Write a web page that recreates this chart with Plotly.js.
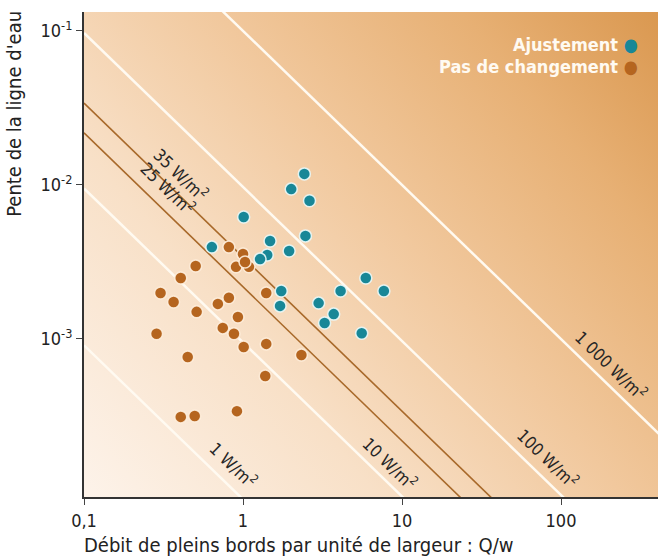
<!DOCTYPE html>
<html>
<head>
<meta charset="utf-8">
<script src="https://cdn.plot.ly/plotly-3.0.1.min.js"></script>
<style>
  html, body { margin: 0; padding: 0; background: #ffffff; }
  #chart { width: 661px; height: 556px; }
</style>
</head>
<body>
<div id="chart"></div>
<script>
// ---- Data ----
// "Ajustement" (teal) : débit par unité de largeur Q/w and pente
const ajustQ = [2.43, 2.01, 2.62, 1.01, 2.47, 0.637, 1.48, 1.95, 1.42, 1.28,
                5.92, 7.69, 4.11, 1.74, 1.71, 2.99, 3.72, 3.26, 5.58];
const ajustS = [1.18e-2, 9.4e-3, 7.9e-3, 6.2e-3, 4.67e-3, 3.95e-3, 4.33e-3, 3.73e-3, 3.51e-3, 3.30e-3,
                2.49e-3, 2.05e-3, 2.05e-3, 2.05e-3, 1.64e-3, 1.71e-3, 1.45e-3, 1.27e-3, 1.09e-3];

// "Pas de changement" (orange)
const pasQ = [0.815, 1.00, 0.904, 1.09, 1.03, 0.504, 0.406, 0.303, 0.366, 0.511,
              0.695, 0.815, 0.929, 0.746, 0.877, 1.01, 1.40, 1.40, 2.33, 0.286,
              0.449, 1.38, 0.406, 0.497, 0.916];
const pasS = [3.95e-3, 3.56e-3, 2.94e-3, 2.94e-3, 3.16e-3, 2.98e-3, 2.49e-3, 1.99e-3, 1.74e-3, 1.50e-3,
              1.69e-3, 1.85e-3, 1.39e-3, 1.18e-3, 1.08e-3, 8.87e-4, 1.99e-3, 9.29e-4, 7.87e-4, 1.08e-3,
              7.64e-4, 5.75e-4, 3.12e-4, 3.16e-4, 3.40e-4];

// Iso stream-power lines (two end points each)
const lineQ = [0.1, 1000];
const w1S    = [9.1e-4, 9.1e-8];
const w10S   = [9.5e-3, 9.5e-7];
const w100S  = [0.097, 9.7e-6];
const w1000S = [1.0, 1.0e-4];
const w35S   = [0.034, 3.4e-6];
const w25S   = [0.0218, 2.18e-6];

// Line labels
const labelText = ["1 W/m<sup>2</sup>", "10 W/m<sup>2</sup>", "100 W/m<sup>2</sup>", "1 000 W/m<sup>2</sup>",
                   "35 W/m<sup>2</sup>", "25 W/m<sup>2</sup>"];
const labelQ = [0.877, 8.4, 82.8, 207, 0.406, 0.338];
const labelS = [1.52e-4, 1.57e-4, 1.69e-4, 6.78e-4, 1.18e-2, 9.6e-3];

// Ticks
const xTickVals = [0.1, 1, 10, 100];
const xTickText = ["0,1", "1", "10", "100"];
const yTickVals = [1e-3, 1e-2, 1e-1];
const yTickText = ["10<sup>-3</sup>", "10<sup>-2</sup>", "10<sup>-1</sup>"];

const seriesNames = ["Ajustement", "Pas de changement"];
const seriesColors = ["#188797", "#b5651f"];

// ---- Background gradient image ----
function gradientImage() {
  const c = document.createElement("canvas");
  c.width = 574; c.height = 485;
  const ctx = c.getContext("2d");
  const g = ctx.createLinearGradient(0, c.height, c.width, 0);
  g.addColorStop(0.00, "#fdf3ea");
  g.addColorStop(0.30, "#f8e0c7");
  g.addColorStop(0.55, "#f1c89d");
  g.addColorStop(0.80, "#e7b074");
  g.addColorStop(1.00, "#da9850");
  ctx.fillStyle = g;
  ctx.fillRect(0, 0, c.width, c.height);
  return c.toDataURL("image/png");
}

const FONT = "'Liberation Sans Narrow', 'DejaVu Sans Condensed', 'Roboto Condensed', 'Arial Narrow', sans-serif";

function isoLine(ys, color, width) {
  return { x: lineQ, y: ys, mode: "lines", type: "scatter", hoverinfo: "skip",
           line: { color: color, width: width }, showlegend: false };
}

const traces = [
  isoLine(w1S, "#fffaf1", 2.5),
  isoLine(w10S, "#fffaf1", 2.5),
  isoLine(w100S, "#fffaf1", 2.5),
  isoLine(w1000S, "#fffaf1", 2.5),
  isoLine(w35S, "#a8692a", 1.6),
  isoLine(w25S, "#a8692a", 1.6),
  { x: pasQ, y: pasS, mode: "markers", type: "scatter", name: seriesNames[1], showlegend: false,
    marker: { color: seriesColors[1], size: 12, line: { color: "rgba(255,240,222,0.9)", width: 1.5 } } },
  { x: ajustQ, y: ajustS, mode: "markers", type: "scatter", name: seriesNames[0], showlegend: false,
    marker: { color: seriesColors[0], size: 12, line: { color: "rgba(235,250,250,0.9)", width: 1.5 } } }
];

const annotations = labelText.map((t, i) => ({
  x: Math.log10(labelQ[i]), y: Math.log10(labelS[i]), xref: "x", yref: "y",
  text: t, showarrow: false, textangle: 44,
  font: { family: FONT, size: 17, color: "#262626" }
}));

annotations.push({
  xref: "paper", yref: "paper", x: 0.969, y: 0.934, xanchor: "right", yanchor: "middle",
  text: seriesNames[0] + " <span style='color:" + seriesColors[0] + "'>●</span>", showarrow: false,
  font: { family: FONT, size: 18, color: "#fffaf2", weight: 600 }
});
annotations.push({
  xref: "paper", yref: "paper", x: 0.969, y: 0.887, xanchor: "right", yanchor: "middle",
  text: seriesNames[1] + " <span style='color:" + seriesColors[1] + "'>●</span>", showarrow: false,
  font: { family: FONT, size: 18, color: "#fffaf2", weight: 600 }
});
annotations.push({
  xref: "paper", yref: "paper", x: -0.122, y: 0.790, xanchor: "center", yanchor: "middle",
  text: "Pente de la ligne d'eau", textangle: -90, showarrow: false,
  font: { family: FONT, size: 20, color: "#222222" }
});
annotations.push({
  xref: "paper", yref: "paper", x: -0.003, y: -0.099, xanchor: "left", yanchor: "middle",
  text: "Débit de pleins bords par unité de largeur : Q/w", showarrow: false,
  font: { family: FONT, size: 20, color: "#222222" }
});

const layout = {
  width: 661, height: 556,
  margin: { l: 84, r: 3, t: 12, b: 59, pad: 0 },
  paper_bgcolor: "#ffffff",
  plot_bgcolor: "rgba(0,0,0,0)",
  showlegend: false,
  images: [{ source: gradientImage(), xref: "paper", yref: "paper", x: 0, y: 1,
             sizex: 1, sizey: 1, sizing: "stretch", xanchor: "left", yanchor: "top", layer: "below" }],
  xaxis: {
    type: "log", range: [-1, 2.61], showgrid: false, zeroline: false,
    showline: true, linecolor: "#333333", linewidth: 2, mirror: false,
    ticks: "outside", ticklen: 6, tickcolor: "#444444", tickwidth: 1,
    tickvals: xTickVals, ticktext: xTickText,
    tickfont: { family: FONT, size: 18, color: "#222222" }
  },
  yaxis: {
    type: "log", range: [-4.026, -0.877], showgrid: false, zeroline: false,
    showline: true, linecolor: "#333333", linewidth: 2, mirror: false,
    ticks: "outside", ticklen: 6, tickcolor: "#444444", tickwidth: 1,
    tickvals: yTickVals, ticktext: yTickText,
    tickfont: { family: FONT, size: 18, color: "#222222" }
  },
  annotations: annotations
};

Plotly.newPlot("chart", traces, layout, { displayModeBar: false, staticPlot: true });
</script>
</body>
</html>
